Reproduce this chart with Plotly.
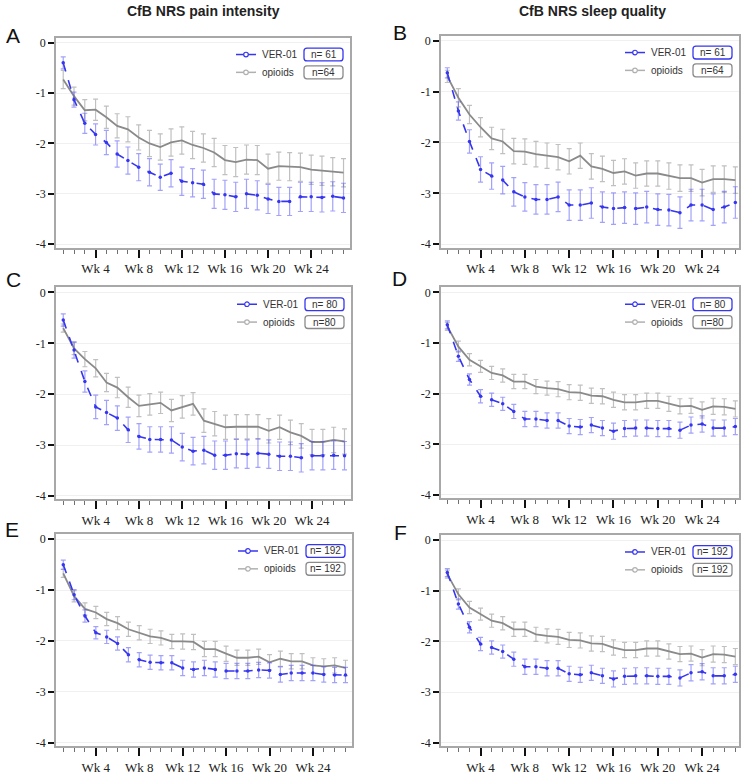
import plotly.graph_objects as go

W, H = 746, 775

weeks = list(range(1, 28))
tick_weeks = [4, 8, 12, 16, 20, 24]
tick_labels = ["Wk 4", "Wk 8", "Wk 12", "Wk 16", "Wk 20", "Wk 24"]
y_ticks = [0, -1, -2, -3, -4]

# Panel A: CfB NRS pain intensity (n=61 / n=64)
a_ver = [-0.40, -1.13, -1.60, -1.82, -1.98, -2.21, -2.34, -2.47, -2.57, -2.67, -2.59, -2.75, -2.78, -2.81,
         -3.00, -3.02, -3.06, -3.00, -3.03, -3.10, -3.15, -3.15, -3.06, -3.06, -3.07, -3.05, -3.08]
a_ver_err = [0.12, 0.15, 0.20, 0.21, 0.24, 0.26, 0.27, 0.27, 0.27, 0.26, 0.27, 0.28, 0.28, 0.28,
             0.29, 0.29, 0.29, 0.29, 0.29, 0.29, 0.28, 0.28, 0.29, 0.29, 0.29, 0.29, 0.29]
a_opi = [-0.73, -1.06, -1.34, -1.33, -1.48, -1.65, -1.72, -1.88, -2.00, -2.07, -1.98, -1.94, -2.03, -2.09,
         -2.18, -2.33, -2.37, -2.32, -2.33, -2.50, -2.45, -2.46, -2.47, -2.52, -2.54, -2.56, -2.58]
a_opi_err = [0.18, 0.18, 0.21, 0.21, 0.22, 0.24, 0.25, 0.25, 0.26, 0.26, 0.27, 0.27, 0.27, 0.28,
             0.28, 0.29, 0.29, 0.29, 0.29, 0.29, 0.28, 0.28, 0.28, 0.29, 0.29, 0.28, 0.28]

# Panel B: CfB NRS sleep quality (n=61 / n=64)
b_ver = [-0.63, -1.38, -1.98, -2.53, -2.66, -2.74, -2.97, -3.07, -3.12, -3.12, -3.07, -3.23, -3.23, -3.19,
         -3.27, -3.30, -3.28, -3.30, -3.27, -3.32, -3.33, -3.38, -3.23, -3.23, -3.32, -3.27, -3.18]
b_ver_err = [0.10, 0.18, 0.23, 0.25, 0.26, 0.27, 0.28, 0.28, 0.29, 0.29, 0.29, 0.30, 0.30, 0.30,
             0.30, 0.31, 0.31, 0.31, 0.31, 0.31, 0.31, 0.31, 0.31, 0.31, 0.31, 0.31, 0.31]
b_opi = [-0.70, -1.12, -1.45, -1.70, -1.92, -1.98, -2.17, -2.18, -2.23, -2.26, -2.29, -2.37, -2.26, -2.47,
         -2.52, -2.60, -2.57, -2.65, -2.61, -2.61, -2.66, -2.70, -2.70, -2.79, -2.72, -2.72, -2.74]
b_opi_err = [0.12, 0.18, 0.18, 0.19, 0.22, 0.24, 0.25, 0.25, 0.25, 0.25, 0.25, 0.25, 0.25, 0.25,
             0.25, 0.25, 0.25, 0.25, 0.25, 0.25, 0.26, 0.26, 0.26, 0.26, 0.26, 0.26, 0.26]

# Panel C: CfB NRS pain intensity (n=80 / n=80)
c_ver = [-0.54, -1.13, -1.75, -2.25, -2.36, -2.47, -2.70, -2.83, -2.89, -2.89, -2.90, -3.04, -3.12, -3.10,
         -3.20, -3.20, -3.17, -3.18, -3.16, -3.18, -3.22, -3.22, -3.25, -3.21, -3.21, -3.20, -3.21]
c_ver_err = [0.12, 0.16, 0.21, 0.23, 0.24, 0.24, 0.25, 0.25, 0.25, 0.25, 0.26, 0.27, 0.27, 0.27,
             0.28, 0.28, 0.28, 0.28, 0.28, 0.28, 0.28, 0.28, 0.28, 0.28, 0.28, 0.28, 0.28]
c_opi = [-0.70, -1.10, -1.31, -1.49, -1.77, -1.87, -2.06, -2.23, -2.20, -2.17, -2.32, -2.25, -2.19, -2.52,
         -2.58, -2.65, -2.64, -2.64, -2.64, -2.72, -2.65, -2.75, -2.82, -2.94, -2.94, -2.90, -2.93]
c_opi_err = [0.08, 0.12, 0.15, 0.17, 0.18, 0.20, 0.20, 0.21, 0.21, 0.21, 0.22, 0.22, 0.22, 0.23,
             0.24, 0.24, 0.24, 0.24, 0.24, 0.24, 0.24, 0.24, 0.24, 0.25, 0.25, 0.25, 0.25]

# Panel D: CfB NRS sleep quality (n=80 / n=80)
d_ver = [-0.64, -1.26, -1.72, -2.05, -2.12, -2.20, -2.35, -2.50, -2.50, -2.53, -2.53, -2.64, -2.66, -2.62,
         -2.68, -2.74, -2.69, -2.68, -2.68, -2.69, -2.69, -2.72, -2.62, -2.60, -2.68, -2.68, -2.65]
d_ver_err = [0.08, 0.10, 0.11, 0.13, 0.13, 0.13, 0.14, 0.15, 0.15, 0.15, 0.15, 0.15, 0.15, 0.15,
             0.15, 0.16, 0.16, 0.16, 0.16, 0.16, 0.16, 0.16, 0.16, 0.16, 0.16, 0.16, 0.16]
d_opi = [-0.67, -1.07, -1.33, -1.46, -1.59, -1.64, -1.76, -1.76, -1.86, -1.89, -1.91, -1.97, -1.98, -2.04,
         -2.05, -2.12, -2.17, -2.17, -2.14, -2.14, -2.20, -2.25, -2.24, -2.32, -2.25, -2.26, -2.30]
d_opi_err = [0.08, 0.11, 0.12, 0.12, 0.13, 0.13, 0.14, 0.14, 0.14, 0.14, 0.15, 0.15, 0.15, 0.15,
             0.15, 0.15, 0.15, 0.15, 0.15, 0.15, 0.15, 0.15, 0.15, 0.16, 0.16, 0.16, 0.16]

# Panel E: CfB NRS pain intensity (n=192 / n=192)
e_ver = [-0.50, -1.09, -1.51, -1.84, -1.92, -2.05, -2.27, -2.37, -2.42, -2.43, -2.43, -2.53, -2.56, -2.53,
         -2.56, -2.59, -2.59, -2.59, -2.57, -2.58, -2.66, -2.63, -2.63, -2.63, -2.66, -2.67, -2.67]
e_ver_err = [0.09, 0.10, 0.12, 0.12, 0.13, 0.13, 0.14, 0.14, 0.14, 0.14, 0.14, 0.15, 0.15, 0.15,
             0.15, 0.15, 0.15, 0.15, 0.15, 0.15, 0.15, 0.15, 0.15, 0.15, 0.15, 0.15, 0.15]
e_opi = [-0.67, -1.12, -1.37, -1.44, -1.57, -1.65, -1.77, -1.84, -1.91, -1.94, -2.01, -2.01, -2.02, -2.16,
         -2.16, -2.25, -2.33, -2.33, -2.31, -2.42, -2.35, -2.40, -2.40, -2.48, -2.50, -2.48, -2.53]
e_opi_err = [0.08, 0.11, 0.12, 0.12, 0.13, 0.13, 0.14, 0.14, 0.14, 0.14, 0.14, 0.15, 0.15, 0.15,
             0.15, 0.15, 0.15, 0.15, 0.15, 0.15, 0.15, 0.15, 0.15, 0.15, 0.15, 0.15, 0.15]

# Panel F: CfB NRS sleep quality (n=192 / n=192)
f_ver = [-0.64, -1.26, -1.72, -2.05, -2.12, -2.20, -2.35, -2.50, -2.50, -2.53, -2.53, -2.64, -2.66, -2.62,
         -2.68, -2.74, -2.69, -2.68, -2.68, -2.69, -2.69, -2.72, -2.62, -2.60, -2.68, -2.68, -2.65]
f_ver_err = [0.08, 0.10, 0.11, 0.13, 0.13, 0.13, 0.14, 0.15, 0.15, 0.15, 0.15, 0.15, 0.15, 0.15,
             0.15, 0.16, 0.16, 0.16, 0.16, 0.16, 0.16, 0.16, 0.16, 0.16, 0.16, 0.16, 0.16]
f_opi = [-0.67, -1.07, -1.33, -1.46, -1.59, -1.64, -1.76, -1.76, -1.86, -1.89, -1.91, -1.97, -1.98, -2.04,
         -2.05, -2.12, -2.17, -2.17, -2.14, -2.14, -2.20, -2.25, -2.24, -2.32, -2.25, -2.26, -2.30]
f_opi_err = [0.08, 0.11, 0.12, 0.12, 0.13, 0.13, 0.14, 0.14, 0.14, 0.14, 0.15, 0.15, 0.15, 0.15,
             0.15, 0.15, 0.15, 0.15, 0.15, 0.15, 0.15, 0.15, 0.15, 0.16, 0.16, 0.16, 0.16]

panel_letters = ["A", "B", "C", "D", "E", "F"]
n_ver = ["n= 61", "n= 61", "n= 80", "n= 80", "n= 192", "n= 192"]
n_opi = ["n=64", "n=64", "n=80", "n=80", "n= 192", "n= 192"]
col_titles = ["CfB NRS pain intensity", "CfB NRS sleep quality"]
series_names = ["VER-01", "opioids"]

panels = [
    (a_ver, a_ver_err, a_opi, a_opi_err),
    (b_ver, b_ver_err, b_opi, b_opi_err),
    (c_ver, c_ver_err, c_opi, c_opi_err),
    (d_ver, d_ver_err, d_opi, d_opi_err),
    (e_ver, e_ver_err, e_opi, e_opi_err),
    (f_ver, f_ver_err, f_opi, f_opi_err),
]

# plot frames in pixels: (left, right, top, bottom)
frames = [
    (56, 350, 36, 248), (441, 739, 34, 248),
    (56, 351, 288, 502), (441, 739, 288, 501),
    (56, 352, 537, 751), (441, 739, 538, 751),
]
xranges = [(0.33, 27.6), (0.43, 27.33)]
letter_pos = [(13, 34), (400, 31), (14, 280), (399, 279), (12, 532), (400, 535)]

BLUE = "#3636f0"
BLUE_ERR = "rgba(70,70,245,0.5)"
GRAY = "#8a8a8a"
GRAY_ERR = "#c0c0c0"
SERIF = "Liberation Serif"
SANS = "Liberation Sans"


def px(x):
    return x / W


def py(y):
    return 1 - y / H


fig = go.Figure()
shapes = []
annotations = []

for i, (ver, ver_err, opi, opi_err) in enumerate(panels):
    k = "" if i == 0 else str(i + 1)
    xa, ya = "x" + k, "y" + k
    l, r, t, b = frames[i]
    fig.add_trace(go.Scatter(
        x=weeks, y=opi, mode="lines", xaxis=xa, yaxis=ya, showlegend=False,
        line=dict(color=GRAY, width=1.8),
        error_y=dict(type="data", array=opi_err, visible=True, color=GRAY_ERR, thickness=1.2, width=2.5),
    ))
    fig.add_trace(go.Scatter(
        x=weeks, y=ver, mode="lines+markers", xaxis=xa, yaxis=ya, showlegend=False,
        line=dict(color=BLUE, width=1.6, dash="dash"),
        marker=dict(color=BLUE, size=3.5),
        error_y=dict(type="data", array=ver_err, visible=True, color=BLUE_ERR, thickness=1.2, width=2.5),
    ))
    xr = xranges[i % 2]
    fig.update_layout({
        "xaxis" + k: dict(
            domain=[px(l), px(r)], anchor=ya, range=list(xr),
            tickmode="array", tickvals=tick_weeks, ticktext=tick_labels,
            ticks="outside", ticklen=8, tickwidth=2, tickcolor="#111",
            tickfont=dict(family=SERIF, size=13, color="#222"),
            showline=True, linecolor="#a8a8a8", linewidth=1.5, mirror=True,
            showgrid=False, zeroline=False,
            minor=dict(tickmode="array", tickvals=weeks, ticks="outside", ticklen=4,
                       tickcolor="#707070", tickwidth=1, showgrid=False),
        ),
        "yaxis" + k: dict(
            domain=[py(b), py(t)], anchor=xa, range=[-4.07, 0.1],
            tickmode="array", tickvals=y_ticks, ticktext=[str(v) for v in y_ticks],
            ticks="outside", ticklen=6, tickwidth=2, tickcolor="#111",
            tickfont=dict(family=SERIF, size=12, color="#222"),
            showline=True, linecolor="#a8a8a8", linewidth=1.5, mirror=True,
            showgrid=True, gridcolor="#f0f0f0", gridwidth=1, zeroline=False,
        ),
    })

    # legend (drawn inside the plot frame)
    rows = [(t + 17, BLUE, BLUE, series_names[0], n_ver[i]),
            (t + 35, "#b0b0b0", "#8a8a8a", series_names[1], n_opi[i])]
    for yy, lcol, bcol, name, ntxt in rows:
        shapes.append(dict(type="line", xref="paper", yref="paper",
                           x0=px(r - 114), x1=px(r - 94), y0=py(yy), y1=py(yy),
                           line=dict(color=lcol, width=1.5)))
        rad = 2.3
        shapes.append(dict(type="circle", xref="paper", yref="paper",
                           x0=px(r - 104 - rad), x1=px(r - 104 + rad),
                           y0=py(yy + rad), y1=py(yy - rad),
                           fillcolor="white", line=dict(color=lcol, width=1.2)))
        annotations.append(dict(text=name, xref="paper", yref="paper", x=px(r - 90), y=py(yy),
                                xanchor="left", yanchor="middle", showarrow=False,
                                font=dict(family=SANS, size=10, color="#333")))
        bx0, bx1, by0, by1, rr = r - 46, r - 7, yy - 6.5, yy + 6.5, 3
        pts = (f"M {px(bx0 + rr)} {py(by0)} L {px(bx1 - rr)} {py(by0)} "
               f"Q {px(bx1)} {py(by0)} {px(bx1)} {py(by0 + rr)} L {px(bx1)} {py(by1 - rr)} "
               f"Q {px(bx1)} {py(by1)} {px(bx1 - rr)} {py(by1)} L {px(bx0 + rr)} {py(by1)} "
               f"Q {px(bx0)} {py(by1)} {px(bx0)} {py(by1 - rr)} L {px(bx0)} {py(by0 + rr)} "
               f"Q {px(bx0)} {py(by0)} {px(bx0 + rr)} {py(by0)} Z")
        shapes.append(dict(type="path", xref="paper", yref="paper", path=pts,
                           fillcolor="white", line=dict(color=bcol, width=1.3)))
        annotations.append(dict(text=ntxt, xref="paper", yref="paper", x=px((bx0 + bx1) / 2), y=py(yy),
                                xanchor="center", yanchor="middle", showarrow=False,
                                font=dict(family=SANS, size=10, color="#333")))

    lx, ly = letter_pos[i]
    annotations.append(dict(text=panel_letters[i], xref="paper", yref="paper", x=px(lx), y=py(ly),
                            xanchor="center", yanchor="middle", showarrow=False,
                            font=dict(family=SANS, size=21, color="#111")))

annotations.append(dict(text="<b>" + col_titles[0] + "</b>", xref="paper", yref="paper",
                        x=px(203), y=py(9), xanchor="center", yanchor="middle", showarrow=False,
                        font=dict(family=SANS, size=14, color="#222")))
annotations.append(dict(text="<b>" + col_titles[1] + "</b>", xref="paper", yref="paper",
                        x=px(592), y=py(9), xanchor="center", yanchor="middle", showarrow=False,
                        font=dict(family=SANS, size=14, color="#222")))

fig.update_layout(
    width=W, height=H, margin=dict(l=0, r=0, t=0, b=0),
    paper_bgcolor="white", plot_bgcolor="white",
    shapes=shapes, annotations=annotations, showlegend=False,
)

fig.write_html("out.html", config={"displayModeBar": False},
               post_script="document.body.style.margin='0';")
